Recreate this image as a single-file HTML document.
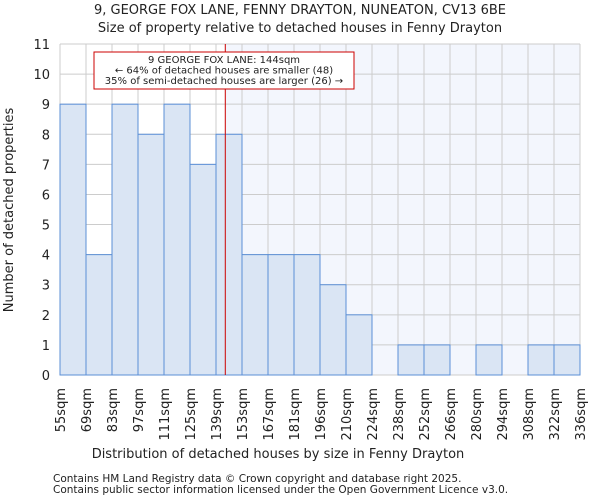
<!DOCTYPE html>
<html><head><meta charset="utf-8"><style>
body{margin:0;background:#fff;font-family:"DejaVu Sans","Liberation Sans",sans-serif;}
svg text{font-family:"DejaVu Sans","Liberation Sans",sans-serif;fill:#222;}
</style></head><body>
<svg id="chart" width="600" height="500" xmlns="http://www.w3.org/2000/svg">
<text x="300" y="14" text-anchor="middle" font-size="13">9, GEORGE FOX LANE, FENNY DRAYTON, NUNEATON, CV13 6BE</text>
<text x="300" y="32" text-anchor="middle" font-size="13">Size of property relative to detached houses in Fenny Drayton</text>
<g id="plot"></g>
<text x="278" y="458" text-anchor="middle" font-size="13">Distribution of detached houses by size in Fenny Drayton</text>
<text transform="translate(13,210) rotate(-90)" text-anchor="middle" font-size="13">Number of detached properties</text>
<text x="53" y="482" font-size="10.5" fill="#444">Contains HM Land Registry data © Crown copyright and database right 2025.</text>
<text x="53" y="493" font-size="10.5" fill="#444">Contains public sector information licensed under the Open Government Licence v3.0.</text>
</svg>
<script>
const binLabels=["55sqm","69sqm","83sqm","97sqm","111sqm","125sqm","139sqm","153sqm","167sqm","181sqm","196sqm","210sqm","224sqm","238sqm","252sqm","266sqm","280sqm","294sqm","308sqm","322sqm","336sqm"];
const binEdges=[55,69,83,97,111,125,139,153,167,181,195,209,223,237,251,265,279,293,307,321,335];
const counts=[9,4,9,8,9,7,8,4,4,4,3,2,0,1,1,0,1,0,1,1];
const yTicks=[0,1,2,3,4,5,6,7,8,9,10,11];
const propertySize=144;
const NS="http://www.w3.org/2000/svg";
const L=60,R=580,T=44,B=375,yMax=11;
const n=counts.length,bw=(R-L)/n;
const xi=i=>L+i*bw;
const xv=v=>{for(let i=0;i<binEdges.length-1;i++){if(v<=binEdges[i+1])return xi(i)+(v-binEdges[i])/(binEdges[i+1]-binEdges[i])*bw;}return R;};
const y=v=>B-v/yMax*(B-T);
const g=document.getElementById('plot');
function mk(t,a){const e=document.createElementNS(NS,t);for(const k in a)e.setAttribute(k,a[k]);g.appendChild(e);return e;}
const px=xv(propertySize);
let e=mk('rect',{x:px,y:T,width:R-px,height:B-T,fill:'#f3f6fd'});


yTicks.forEach(t=>{
 let l=mk('line',{x1:L,x2:R,y1:y(t),y2:y(t),stroke:'#cccccc','stroke-width':1});
 
 
 let tx=mk('text',{x:L-10,y:y(t)+5,'text-anchor':'end','font-size':13});
 tx.textContent=t;
 
 
});
binLabels.forEach((lab,i)=>{
 let l=mk('line',{x1:xi(i),x2:xi(i),y1:T,y2:B,stroke:'#cccccc','stroke-width':1});
 
 
 let tx=mk('text',{transform:`translate(${xi(i)+5},${B+13}) rotate(-90)`,'text-anchor':'end','font-size':13});
 tx.textContent=lab;
 
 
});
counts.forEach((c,i)=>{
 if(c<=0)return;
 let r=mk('rect',{x:xi(i),y:y(c),width:bw,height:B-y(c),fill:'#dae5f4',stroke:'#5b8fd6','stroke-width':1});
 
 
});
let rl=mk('line',{x1:px,x2:px,y1:T,y2:B,stroke:'#cc0000','stroke-width':1});


let box=mk('rect',{x:94,y:52,width:260,height:37,fill:'#fff',stroke:'#cc0000','stroke-width':1});


["9 GEORGE FOX LANE: 144sqm","← 64% of detached houses are smaller (48)","35% of semi-detached houses are larger (26) →"].forEach((s,k)=>{
 let tx=mk('text',{x:224,y:63+k*10.5,'text-anchor':'middle','font-size':10});
 tx.textContent=s;
 
 
});
</script>
</body></html>
